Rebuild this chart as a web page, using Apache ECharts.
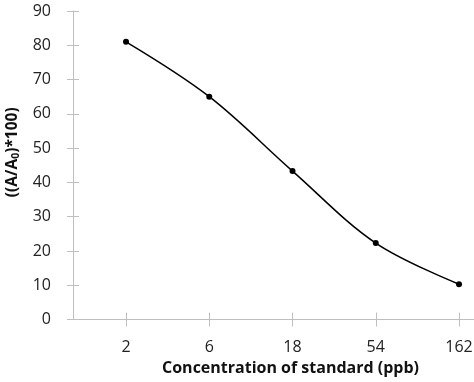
<!DOCTYPE html>
<html>
<head>
<meta charset="utf-8">
<script src="https://cdn.jsdelivr.net/npm/echarts@6/dist/echarts.min.js"></script>
<style>
html,body{margin:0;padding:0;background:#fff;}
#c{width:474px;height:382px;}
</style>
</head>
<body>
<div id="c"></div>
<script>
const categories = ['2', '6', '18', '54', '162'];
const values = [81.0, 65.0, 43.3, 22.3, 10.3];
const yTicks = [0, 10, 20, 30, 40, 50, 60, 70, 80, 90];
const xTitle = 'Concentration of standard (ppb)';

const FONT = '"Open Sans", sans-serif';
const AX = '#bfbfbf';
const idx = categories.map((c, i) => i);
const pts = values.map((v, i) => [i, v]);

const xCommon = {
  type: 'value', min: -0.637, max: 4.18,
  splitLine: {show: false}
};
const yCommon = {
  type: 'value', min: 0, max: 90, interval: 10,
  splitLine: {show: false}
};

const chart = echarts.init(document.getElementById('c'), null, {renderer: 'canvas'});
chart.setOption({
  animation: false,
  backgroundColor: '#fff',
  grid: {left: 73, right: 0, top: 11, bottom: 62.5, containLabel: false, outerBoundsMode: 'none'},
  xAxis: [
    Object.assign({}, xCommon, {
      position: 'bottom',
      axisLine: {show: true, onZero: false, lineStyle: {color: AX, width: 1}},
      axisTick: {show: true, inside: false, length: 7, lineStyle: {color: AX}, customValues: idx},
      axisLabel: {show: true, customValues: idx, formatter: v => categories[Math.round(v)],
        margin: 20, color: '#222', fontFamily: FONT, fontSize: 16},
      name: xTitle, nameLocation: 'middle', nameGap: 38,
      nameTextStyle: {fontFamily: FONT, fontSize: 16, fontWeight: 'bold', color: '#111', padding: [0, 0, 0, 34]}
    }),
    Object.assign({}, xCommon, {
      position: 'bottom',
      axisLine: {show: false, onZero: false},
      axisTick: {show: true, inside: true, length: 7, lineStyle: {color: AX}, customValues: idx},
      axisLabel: {show: false}
    })
  ],
  yAxis: [
    Object.assign({}, yCommon, {
      position: 'left',
      axisLine: {show: true, onZero: false, lineStyle: {color: AX, width: 1}},
      axisTick: {show: true, inside: false, length: 6, lineStyle: {color: AX}},
      axisLabel: {show: true, margin: 22, color: '#222', fontFamily: FONT, fontSize: 16,
        formatter: v => (yTicks.indexOf(v) >= 0 ? String(v) : '')},
      name: '{m|((A/A}{s|0}{m|)*100)}', nameLocation: 'middle', nameGap: 48,
      nameTextStyle: {
        padding: [0, 0, 0, 26],
        rich: {
          m: {fontFamily: FONT, fontSize: 15.5, fontWeight: 'bold', color: '#111', lineHeight: 20},
          s: {fontFamily: FONT, fontSize: 10.5, fontWeight: 'bold', color: '#111', lineHeight: 20, padding: [8, 0, 0, 0]}
        }
      }
    }),
    Object.assign({}, yCommon, {
      position: 'left',
      axisLine: {show: false, onZero: false},
      axisTick: {show: true, inside: true, length: 6, lineStyle: {color: AX}},
      axisLabel: {show: false}
    })
  ],
  series: [{
    type: 'line',
    xAxisIndex: 0, yAxisIndex: 0,
    data: pts,
    smooth: 0.35,
    symbol: 'circle', symbolSize: 6,
    lineStyle: {color: '#000', width: 1.5},
    itemStyle: {color: '#000'}
  }]
});
</script>
</body>
</html>
